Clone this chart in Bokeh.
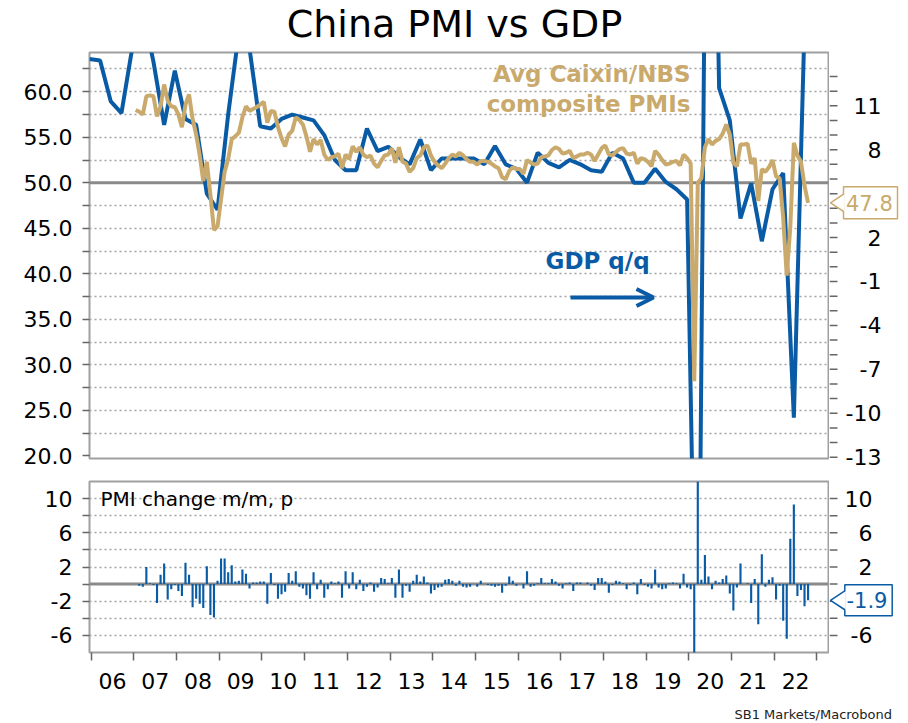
import numpy as np
from bokeh.plotting import figure
from bokeh.layouts import column, row
from bokeh.models import Range1d, FixedTicker, Span, Label, Arrow, OpenHead
from bokeh.core.properties import value
from bokeh.embed import file_html
from bokeh.resources import INLINE

# ---------------- data ----------------
pmi_start = (2007, 1)          # monthly, avg Caixin/NBS composite PMI
pmi = [
    58.0, 57.8, 57.5, 59.5, 59.6, 59.5, 57.3, 58.4, 60.8, 59.0, 58.4, 58.3,   # 2007
    57.5, 56.1, 58.6, 59.7, 57.0, 55.3, 53.0, 50.2, 52.3, 48.7, 44.8, 45.2,   # 2008
    48.2, 51.2, 52.6, 54.8, 55.1, 55.5, 57.2, 58.4, 57.9, 58.1, 58.3, 58.6,   # 2009
    58.9, 56.6, 57.9, 57.8, 56.1, 54.9, 54.0, 55.3, 55.7, 57.2, 56.9, 56.4,   # 2010
    55.1, 53.4, 54.8, 54.2, 54.7, 53.1, 52.5, 52.8, 52.9, 53.2, 51.6, 53.1,   # 2011
    52.6, 54.0, 53.4, 53.9, 53.1, 52.8, 53.0, 52.1, 51.7, 52.4, 53.0, 53.1,   # 2012
    53.8, 52.2, 53.9, 52.3, 52.1, 51.2, 51.6, 52.7, 53.0, 53.9, 54.1, 53.0,   # 2013
    52.3, 51.9, 51.6, 52.1, 52.7, 53.1, 52.9, 53.3, 53.0, 52.6, 52.3, 52.3,   # 2014
    52.0, 52.4, 52.4, 52.3, 52.1, 51.8, 51.6, 50.6, 50.4, 51.3, 51.7, 51.5,   # 2015
    51.5, 51.0, 52.5, 52.2, 52.0, 52.1, 52.8, 52.9, 53.0, 53.6, 53.9, 53.7,   # 2016
    53.2, 53.3, 53.5, 52.7, 52.9, 53.1, 53.1, 53.3, 53.1, 52.4, 53.1, 53.8,   # 2017
    54.1, 53.1, 53.0, 53.4, 53.7, 53.8, 53.2, 53.1, 53.3, 52.1, 52.7, 52.6,   # 2018
    52.3, 51.8, 53.5, 53.1, 52.5, 52.0, 52.1, 52.3, 52.4, 51.9, 53.1, 52.7,   # 2019
    52.1, 28.2, 50.0, 50.5, 53.9, 54.8, 54.2, 54.6, 54.8, 55.4, 56.4, 55.3,   # 2020
    52.2, 51.8, 54.2, 54.2, 54.3, 52.1, 52.7, 48.0, 51.5, 51.2, 51.7, 52.5,   # 2021
    50.7, 50.5, 46.2, 39.8, 45.1, 54.4, 53.0, 52.3, 49.7, 47.8,               # 2022
]

gdp_start = (2005, 4)          # quarterly, GDP q/q annualised, %
gdp_qq = [
    14.2,
    14.1, 11.3, 10.5, 14.9,
    17.5, 14.0, 9.7, 13.4,
    10.1, 9.7, 5.0, 3.9,
    10.4, 16.0, 14.9, 9.6,
    9.45, 10.1, 10.4, 10.2,
    10.0, 9.0, 7.3, 6.6,
    6.6, 9.45, 7.9, 8.2,
    7.5, 7.0, 8.7, 6.6,
    7.4, 7.4, 7.4, 7.4,
    7.0, 8.25, 7.0, 6.7,
    5.75, 7.8, 7.1, 6.8,
    7.3, 7.0, 6.6, 6.5,
    7.8, 7.4, 5.75, 5.75,
    6.7, 5.8, 5.3, 4.6,
    -35.0, 50.0, 12.2, 10.0,
    3.3, 5.7, 1.75, 5.3,
    6.4, -10.3, 16.5,
]

first_year = 2006
year_labels = ["06", "07", "08", "09", "10", "11", "12", "13", "14",
               "15", "16", "17", "18", "19", "20", "21", "22"]
pmi_axis_ticks = [20, 25, 30, 35, 40, 45, 50, 55, 60]
gdp_axis_ticks = [11, 8, 5, 2, -1, -4, -7, -10, -13]
gdp_minor_ticks = list(range(-13, 14))
chg_axis_ticks = [10, 6, 2, -2, -6]
chg_minor_ticks = [10, 8, 6, 4, 2, 0, -2, -4, -6]

title_text = "China PMI vs GDP"
source_text = "SB1 Markets/Macrobond"

BLUE = "#0a5ba6"
TAN = "#c9aa6c"
FONT = "DejaVu Sans"
GRID = "#a3a3a3"
TICK = "#666666"
FRAME = "#a0a0a0"
AXIS_FS = "22px"

# ---------------- derived ----------------
def month_x(start, n):
    y0, m0 = start
    return [y0 + (m0 - 1 + i + 0.5) / 12 for i in range(n)]

def quarter_x(start, n):
    y0, q0 = start
    return [y0 + (3 * (q0 - 1 + i) + 2.5) / 12 for i in range(n)]

pmi_x = month_x(pmi_start, len(pmi))
gdp_x = quarter_x(gdp_start, len(gdp_qq))
chg = list(np.diff(pmi))
chg_x = pmi_x[1:]

year_starts = [first_year + i for i in range(len(year_labels) + 1)]
label_pos = [first_year + i + 0.5 for i in range(len(year_labels))]

# ---------------- layout constants ----------------
TOTAL_W = 906
LEFT = 89
W1 = 829                 # main panels (frame 89..828)
WS = TOTAL_W - W1        # right-hand strip for right axis labels / value boxes
HH = 46                  # header (title)
H1, TOP1, BOT1 = 423, 6, 11
H2, TOP2, BOT2 = 231, 12, 48
HF = 22                  # footer (source)
FH1 = H1 - TOP1 - BOT1
FH2 = H2 - TOP2 - BOT2

PMI_RANGE = (19.71, 64.31)
GDP_RANGE = (-13.09, 14.64)
CHG_RANGE = (-8.0, 12.0)

def extended(rng, fh, top, bot):
    s = (rng[1] - rng[0]) / fh
    return Range1d(rng[0] - bot * s, rng[1] + top * s)

def no_align(p):
    try:
        p.frame_align = False
    except Exception:
        pass

x_range = Range1d(2005.96, 2023.27)

def bare_fig(w, h, xr, yr):
    p = figure(width=w, height=h, x_range=xr, y_range=yr,
               x_axis_location=None, y_axis_location=None,
               toolbar_location=None, tools="", output_backend="svg",
               min_border_left=0, min_border_right=0,
               min_border_top=0, min_border_bottom=0)
    p.grid.visible = False
    p.outline_line_color = None
    p.background_fill_color = "white"
    p.border_fill_color = "white"
    no_align(p)
    return p

def style_fig(p):
    p.outline_line_color = FRAME
    p.outline_line_width = 2
    p.background_fill_color = "white"
    p.border_fill_color = "white"
    p.xgrid.visible = False
    p.ygrid.grid_line_color = GRID
    p.ygrid.grid_line_width = 1.5
    p.ygrid.grid_line_dash = "2 3"
    no_align(p)

def style_axis(ax, size=AXIS_FS):
    ax.axis_line_color = None
    ax.major_tick_line_color = TICK
    ax.minor_tick_line_color = TICK
    ax.major_tick_line_width = 1.5
    ax.minor_tick_line_width = 1.5
    ax.major_tick_out = 7
    ax.major_tick_in = 0
    ax.minor_tick_out = 7
    ax.minor_tick_in = 0
    ax.major_label_text_font = FONT
    ax.major_label_text_font_size = size
    ax.major_label_text_color = "black"

# ---------- header ----------
hdr = bare_fig(TOTAL_W, HH, Range1d(0, TOTAL_W), Range1d(0, HH))
hdr.text(x=[454], y=[HH - 23], text=[title_text], text_align="center",
         text_baseline="middle", text_font=value(FONT), text_font_size="38px",
         text_color="black")

# ---------- top panel ----------
p1 = figure(width=W1, height=H1, x_range=x_range, y_range=Range1d(*PMI_RANGE),
            x_axis_location=None, y_axis_location="left",
            toolbar_location=None, tools="", output_backend="svg",
            min_border_left=LEFT, min_border_right=1,
            min_border_top=TOP1, min_border_bottom=BOT1)
style_fig(p1)
p1.extra_y_ranges = {"gdp": Range1d(*GDP_RANGE)}
p1.ygrid.ticker = FixedTicker(ticks=[v for v in np.arange(22.5, 64.0, 2.5) if v != 50])

lax = p1.yaxis[0]
lax.ticker = FixedTicker(ticks=pmi_axis_ticks, minor_ticks=[t + 2.5 for t in pmi_axis_ticks])
lax.major_label_overrides = {t: f"{t:.1f}" for t in pmi_axis_ticks}
style_axis(lax)
lax.major_label_standoff = 10

p1.add_layout(Span(location=50, dimension="width", line_color="#8a8a8a",
                   line_width=3, level="underlay"))

p1.line(gdp_x, gdp_qq, y_range_name="gdp", line_color=BLUE, line_width=4)
p1.line(pmi_x, pmi, line_color=TAN, line_width=4)

p1.add_layout(Label(x=601, y=385, x_units="screen", y_units="screen",
                    text="Avg Caixin/NBS", text_align="right", text_baseline="middle",
                    text_font=FONT, text_font_size="23px", text_font_style="bold",
                    text_color=TAN))
p1.add_layout(Label(x=601, y=355, x_units="screen", y_units="screen",
                    text="composite PMIs", text_align="right", text_baseline="middle",
                    text_font=FONT, text_font_size="23px", text_font_style="bold",
                    text_color=TAN))
p1.add_layout(Label(x=456, y=198, x_units="screen", y_units="screen",
                    text="GDP q/q", text_align="left", text_baseline="middle",
                    text_font=FONT, text_font_size="23px", text_font_style="bold",
                    text_color=BLUE))
p1.add_layout(Arrow(x_start=481, y_start=161, x_end=564, y_end=161,
                    start_units="screen", end_units="screen",
                    line_color=BLUE, line_width=4,
                    end=OpenHead(size=17, line_width=4, line_color=BLUE)))

# ---------- top right strip (GDP axis + last PMI value) ----------
s1 = bare_fig(WS, H1, Range1d(0, WS), extended(GDP_RANGE, FH1, TOP1, BOT1))
s1.extra_y_ranges = {"pmi": extended(PMI_RANGE, FH1, TOP1, BOT1)}
s1.segment(x0=0, x1=8, y0=gdp_minor_ticks, y1=gdp_minor_ticks,
           line_color=TICK, line_width=1.5)
s1.text(x=52, y=gdp_axis_ticks, text=[str(v) for v in gdp_axis_ticks],
        text_align="right", text_baseline="middle", text_font=value(FONT),
        text_font_size=AXIS_FS, text_color="black")
last_pmi = pmi[-1]
s1.rect(x=[41], y=[last_pmi], width=54, height=32, height_units="screen",
        y_range_name="pmi", fill_color="white", line_color=TAN, line_width=1.5)
s1.patch(x=[1, 15, 15], y=[last_pmi, last_pmi + 0.95, last_pmi - 0.95],
         y_range_name="pmi", fill_color="white", line_color=None)
s1.line(x=[14, 1, 14], y=[last_pmi + 0.95, last_pmi, last_pmi - 0.95],
        y_range_name="pmi", line_color=TAN, line_width=1.5)
s1.text(x=[16.5], y=[last_pmi], text=[f"{last_pmi:.1f}"], y_range_name="pmi",
        text_align="left", text_baseline="middle", text_font=value(FONT),
        text_font_size="21px", text_color=TAN)

# ---------- bottom panel ----------
p2 = figure(width=W1, height=H2, x_range=x_range, y_range=Range1d(*CHG_RANGE),
            toolbar_location=None, tools="", output_backend="svg",
            min_border_left=LEFT, min_border_right=1,
            min_border_top=TOP2, min_border_bottom=BOT2)
style_fig(p2)
p2.ygrid.ticker = FixedTicker(ticks=[10, 8, 6, 4, 2, -2, -4, -6])

bl = p2.yaxis[0]
bl.ticker = FixedTicker(ticks=chg_axis_ticks, minor_ticks=[8, 4, 0, -4])
bl.major_label_overrides = {t: str(t) for t in chg_axis_ticks}
style_axis(bl)
bl.major_label_standoff = 10

bx = p2.xaxis[0]
bx.ticker = FixedTicker(ticks=label_pos, minor_ticks=year_starts)
bx.major_label_overrides = {p: l for p, l in zip(label_pos, year_labels)}
style_axis(bx)
bx.major_tick_line_color = None
bx.major_tick_out = 8
bx.minor_tick_out = 8
bx.major_label_standoff = 12

p2.add_layout(Span(location=0, dimension="width", line_color="#8a8a8a",
                   line_width=3, level="underlay"))
p2.vbar(x=chg_x, top=chg, bottom=0, width=0.05, fill_color=BLUE, line_color=None)

p2.add_layout(Label(x=11, y=154, x_units="screen", y_units="screen",
                    text="PMI change m/m, p", text_align="left", text_baseline="middle",
                    text_font=FONT, text_font_size="20px", text_color="black"))

# ---------- bottom right strip ----------
s2 = bare_fig(WS, H2, Range1d(0, WS), extended(CHG_RANGE, FH2, TOP2, BOT2))
s2.segment(x0=0, x1=8, y0=chg_minor_ticks, y1=chg_minor_ticks,
           line_color=TICK, line_width=1.5)
s2.text(x=43, y=chg_axis_ticks, text=[str(v) for v in chg_axis_ticks],
        text_align="right", text_baseline="middle", text_font=value(FONT),
        text_font_size=AXIS_FS, text_color="black")
last_chg = chg[-1]
s2.rect(x=[39], y=[last_chg], width=47.4, height=31, height_units="screen",
        fill_color="white", line_color=BLUE, line_width=1.5)
s2.patch(x=[1, 16.3, 16.3], y=[last_chg, last_chg + 1.1, last_chg - 1.1],
         fill_color="white", line_color=None)
s2.line(x=[15.3, 1, 15.3], y=[last_chg + 1.1, last_chg, last_chg - 1.1],
        line_color=BLUE, line_width=1.5)
s2.text(x=[17], y=[last_chg], text=[f"{last_chg:.1f}"],
        text_align="left", text_baseline="middle", text_font=value(FONT),
        text_font_size="21px", text_color=BLUE)

# ---------- footer ----------
ftr = bare_fig(TOTAL_W, HF, Range1d(0, TOTAL_W), Range1d(0, HF))
ftr.text(x=[891.5], y=[HF - 13.5], text=[source_text], text_align="right",
         text_baseline="middle", text_font=value(FONT), text_font_size="13px",
         text_color="#222222")

layout = column(hdr, row(p1, s1), row(p2, s2), ftr)
open("out.html", "w").write(file_html(layout, INLINE))
